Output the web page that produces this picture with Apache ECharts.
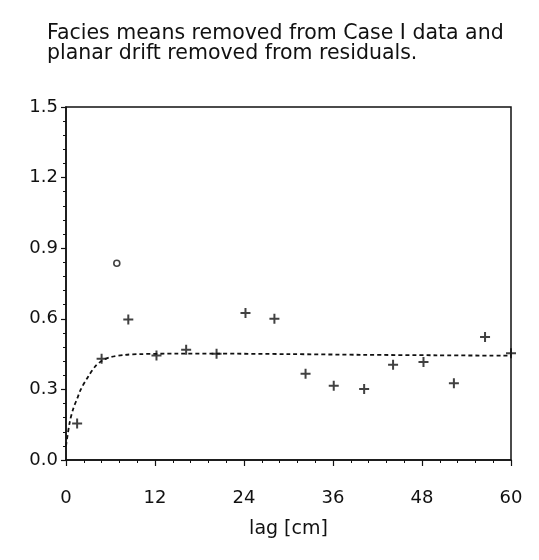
<!DOCTYPE html>
<html>
<head>
<meta charset="utf-8">
<script src="https://cdn.jsdelivr.net/npm/echarts@6.0.0/dist/echarts.min.js"></script>
<style>
  html, body { margin: 0; padding: 0; background: #fff; }
  #chart { width: 539px; height: 560px; }
</style>
</head>
<body>
<div id="chart"></div>
<script>
// Experimental semivariogram: lag (cm) vs. semivariance
const lagValues = [1.5, 4.8, 8.4, 12.2, 16.2, 20.3, 24.2, 28.1, 32.3, 36.1, 40.2, 44.1, 48.2, 52.3, 56.5, 60.0];
const gammaValues = [0.155, 0.43, 0.597, 0.444, 0.469, 0.452, 0.625, 0.600, 0.366, 0.315, 0.302, 0.405, 0.416, 0.326, 0.523, 0.454];

// Outlier lag plotted with an open circle
const outlierLag = [6.85];
const outlierGamma = [0.836];

// Fitted model curve
const modelLag = [0, 0.5, 1, 1.5, 2, 3, 4, 5, 6, 8, 10, 15, 20, 30, 40, 50, 60];
const modelGamma = [0.06, 0.16, 0.22, 0.26, 0.30, 0.355, 0.40, 0.425, 0.437, 0.447, 0.45, 0.452, 0.452, 0.45, 0.447, 0.445, 0.443];

const xTicks = [0, 12, 24, 36, 48, 60];
const yTicks = ['0.0', '0.3', '0.6', '0.9', '1.2', '1.5'];

const titleLines = ['Facies means removed from Case I data and', 'planar drift removed from residuals.'];

const FONT = '"DejaVu Sans", Arial, Helvetica, sans-serif';
const INK = '#111';

const zip = (a, b) => a.map((v, i) => [v, b[i]]);

const chart = echarts.init(document.getElementById('chart'), null, { renderer: 'canvas' });

chart.setOption({
  backgroundColor: '#fff',
  animation: false,
  title: {
    text: titleLines.join('\n'),
    left: 42,
    top: 19,
    textStyle: { fontFamily: FONT, fontSize: 20.5, fontWeight: 'normal', color: INK, lineHeight: 20 }
  },
  grid: {
    left: 66, right: 28, top: 107, bottom: 100,
    show: true, borderColor: INK, borderWidth: 1.5, backgroundColor: 'transparent'
  },
  xAxis: {
    type: 'value',
    min: 0, max: 60, interval: 12,
    name: 'lag [cm]',
    nameLocation: 'middle',
    nameGap: 60,
    nameTextStyle: { fontFamily: FONT, fontSize: 19, color: INK },
    axisLine: { show: true, lineStyle: { color: INK, width: 1.5 } },
    axisTick: { show: true, length: 6, lineStyle: { color: INK, width: 1.2 } },
    minorTick: { show: true, splitNumber: 5, length: 3, lineStyle: { color: INK, width: 1 } },
    splitLine: { show: false },
    axisLabel: {
      margin: 29, fontFamily: FONT, fontSize: 18, color: INK,
      formatter: v => (xTicks.includes(v) ? String(v) : '')
    }
  },
  yAxis: {
    type: 'value',
    min: 0, max: 1.5, interval: 0.3,
    axisLine: { show: true, lineStyle: { color: INK, width: 1.5 } },
    axisTick: { show: true, length: 5, lineStyle: { color: INK, width: 1.2 } },
    minorTick: { show: true, splitNumber: 5, length: 3, lineStyle: { color: INK, width: 1 } },
    splitLine: { show: false },
    axisLabel: {
      margin: 8, fontFamily: FONT, fontSize: 18, color: INK,
      formatter: v => yTicks[Math.round(v / 0.3)]
    }
  },
  series: [
    {
      name: 'model',
      type: 'line',
      data: zip(modelLag, modelGamma),
      smooth: 0.3,
      showSymbol: false,
      symbol: 'none',
      lineStyle: { color: INK, width: 1.8, type: [4, 3] },
      z: 2
    },
    {
      name: 'experimental',
      type: 'scatter',
      data: zip(lagValues, gammaValues),
      symbol: 'path://M4,0H6V4H10V6H6V10H4V6H0V4H4Z',
      symbolSize: 10,
      itemStyle: { color: INK },
      z: 3
    },
    {
      name: 'outlier',
      type: 'scatter',
      data: zip(outlierLag, outlierGamma),
      symbol: 'circle',
      symbolSize: 6,
      itemStyle: { color: '#fff', borderColor: INK, borderWidth: 1.6 },
      z: 3
    }
  ]
});
</script>
</body>
</html>
